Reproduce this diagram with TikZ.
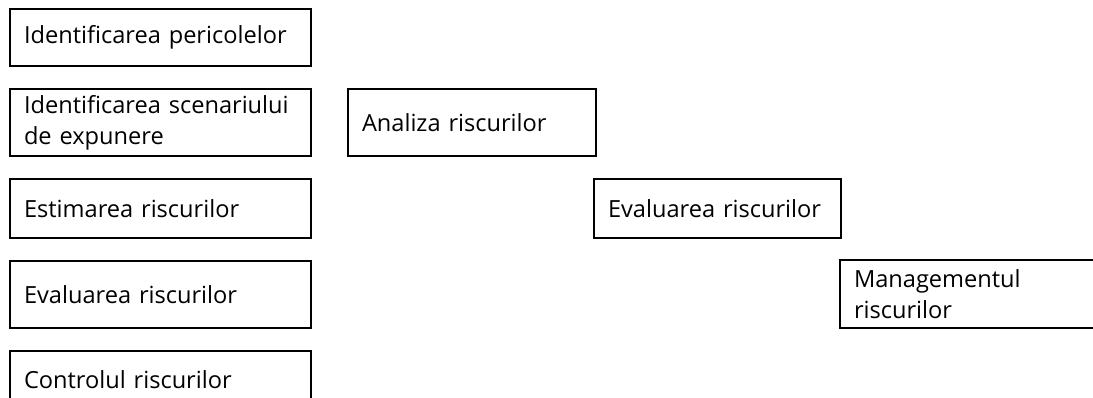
\documentclass[tikz,border=0pt]{standalone}
\usepackage{fontspec}
\setmainfont{Open Sans}
\begin{document}
\begin{tikzpicture}[x=1pt,y=-1pt,
  box/.style={draw=black, line width=2pt, inner xsep=14pt, inner ysep=0pt,
    align=left, text=black, font=\fontsize{23.6}{31}\selectfont}]
\useasboundingbox (0,0) rectangle (1093,398);
\begin{scope}
\clip (0,0) rectangle (1093,398);
\node[box, minimum width=301pt, minimum height=57pt, text width=273pt] (b1) at (160.5,37.5) {Identificarea pericolelor};
\node[box, minimum width=301pt, minimum height=67pt, text width=273pt] (b2) at (160.5,122.5) {Identificarea scenariului\\de expunere};
\node[box, minimum width=248pt, minimum height=67pt, text width=220pt] (b3) at (472,122.5) {Analiza riscurilor};
\node[box, minimum width=301pt, minimum height=59pt, text width=273pt] (b4) at (160.5,208.5) {Estimarea riscurilor};
\node[box, minimum width=247pt, minimum height=59pt, text width=219pt] (b5) at (717.5,208.5) {Evaluarea riscurilor};
\node[box, minimum width=301pt, minimum height=67pt, text width=273pt] (b6) at (160.5,294.5) {Evaluarea riscurilor};
\node[box, minimum width=264pt, minimum height=67pt, text width=236pt] (b7) at (972,294) {Managementul\\riscurilor};
\node[box, minimum width=301pt, minimum height=58pt, text width=273pt] (b8) at (160.5,380) {Controlul riscurilor};
\end{scope}
\end{tikzpicture}
\end{document}
